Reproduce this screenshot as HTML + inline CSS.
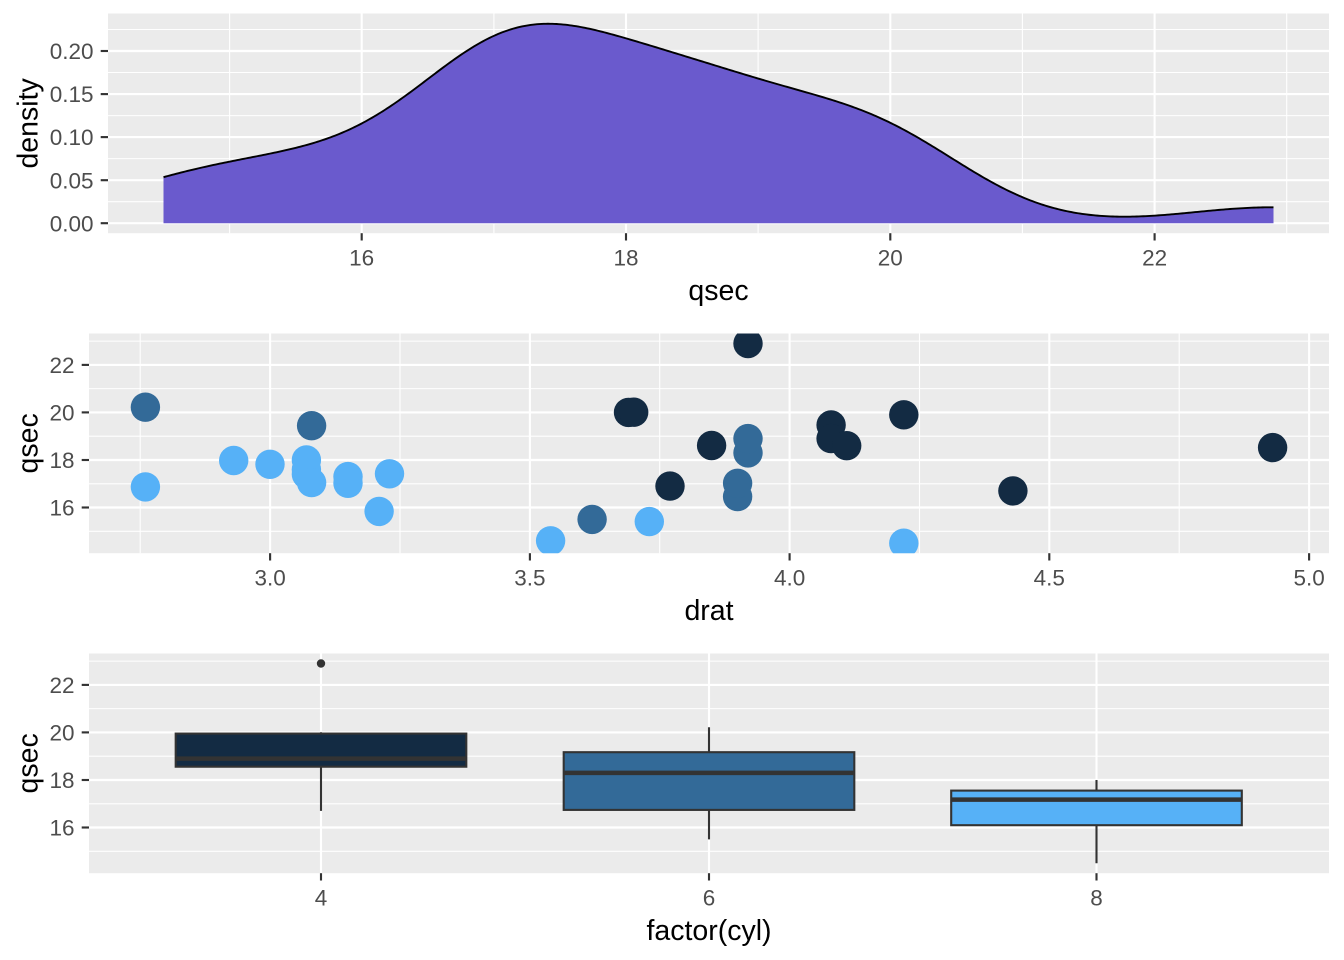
<!DOCTYPE html>
<html><head><meta charset="utf-8"><style>
html,body{margin:0;padding:0;background:#fff;}
svg{display:block;font-family:"Liberation Sans",Arial,sans-serif;}
.tl{font-size:22.5px;fill:#4D4D4D;}
.tt{font-size:28.5px;fill:#000;}
.mn{stroke:#fff;stroke-width:1.07;}
.mj{stroke:#fff;stroke-width:2.13;}
.tk{stroke:#333;stroke-width:2.13;}
</style></head><body>
<svg width="1344" height="960" viewBox="0 0 1344 960" xmlns="http://www.w3.org/2000/svg">
<defs>
<clipPath id="c1"><rect x="108" y="13.5" width="1221" height="219.7"/></clipPath>
<clipPath id="c2"><rect x="89" y="333.5" width="1240" height="219.7"/></clipPath>
<clipPath id="c3"><rect x="89" y="653.5" width="1240" height="219.7"/></clipPath>
</defs>
<rect width="1344" height="960" fill="#fff"/>

<!-- Panel 1 -->
<rect x="108" y="13.5" width="1221" height="219.7" fill="#EBEBEB"/>
<g class="mn">
<line x1="108" x2="1329" y1="201.7" y2="201.7"/><line x1="108" x2="1329" y1="158.6" y2="158.6"/><line x1="108" x2="1329" y1="115.6" y2="115.6"/><line x1="108" x2="1329" y1="72.5" y2="72.5"/><line x1="108" x2="1329" y1="29.5" y2="29.5"/>
<line y1="13.5" y2="233.2" x1="229.6" x2="229.6"/><line y1="13.5" y2="233.2" x1="493.9" x2="493.9"/><line y1="13.5" y2="233.2" x1="758.1" x2="758.1"/><line y1="13.5" y2="233.2" x1="1022.4" x2="1022.4"/><line y1="13.5" y2="233.2" x1="1286.7" x2="1286.7"/>
</g>
<g class="mj">
<line x1="108" x2="1329" y1="223.2" y2="223.2"/><line x1="108" x2="1329" y1="180.2" y2="180.2"/><line x1="108" x2="1329" y1="137.1" y2="137.1"/><line x1="108" x2="1329" y1="94.1" y2="94.1"/><line x1="108" x2="1329" y1="51" y2="51"/>
<line y1="13.5" y2="233.2" x1="361.7" x2="361.7"/><line y1="13.5" y2="233.2" x1="626" x2="626"/><line y1="13.5" y2="233.2" x1="890.3" x2="890.3"/><line y1="13.5" y2="233.2" x1="1154.6" x2="1154.6"/>
</g>
<g clip-path="url(#c1)">
<polygon id="df" fill="#6A5ACD" points="163.5,223.2 163.5,177.7 229,161 300,148 330,137 361,124 400,105 440,72 450,64 480,42 500,32 520,27 550,24 580,27 625,38 680,57 740,73 790,90 840,102 890,122 900,128 920,140 950,157 1000,187 1050,207 1100,216 1140,217 1180,213 1230,210 1273.5,208 1273.5,223.2"/>
<polyline id="dl" fill="none" stroke="#000" stroke-width="1.9" stroke-linejoin="round" points="163.5,177.7 229,161 300,148 330,137 361,124 400,105 440,72 450,64 480,42 500,32 520,27 550,24 580,27 625,38 680,57 740,73 790,90 840,102 890,122 900,128 920,140 950,157 1000,187 1050,207 1100,216 1140,217 1180,213 1230,210 1273.5,208"/>
</g>
<g class="tk">
<line x1="100.7" x2="108" y1="223.2" y2="223.2"/><line x1="100.7" x2="108" y1="180.2" y2="180.2"/><line x1="100.7" x2="108" y1="137.1" y2="137.1"/><line x1="100.7" x2="108" y1="94.1" y2="94.1"/><line x1="100.7" x2="108" y1="51" y2="51"/>
<line y1="233.2" y2="240.5" x1="361.7" x2="361.7"/><line y1="233.2" y2="240.5" x1="626" x2="626"/><line y1="233.2" y2="240.5" x1="890.3" x2="890.3"/><line y1="233.2" y2="240.5" x1="1154.6" x2="1154.6"/>
</g>
<g class="tl" text-anchor="end">
<text x="93.5" y="231.3">0.00</text><text x="93.5" y="188.3">0.05</text><text x="93.5" y="145.2">0.10</text><text x="93.5" y="102.2">0.15</text><text x="93.5" y="59.1">0.20</text>
</g>
<g class="tl" text-anchor="middle">
<text x="361.7" y="265.7">16</text><text x="626" y="265.7">18</text><text x="890.3" y="265.7">20</text><text x="1154.6" y="265.7">22</text>
</g>
<text class="tt" x="718.5" y="300" text-anchor="middle">qsec</text>
<text class="tt" transform="translate(37.5,123.4) rotate(-90)" text-anchor="middle">density</text>

<!-- Panel 2 -->
<rect x="89" y="333.5" width="1240" height="219.7" fill="#EBEBEB"/>
<g class="mn">
<line x1="89" x2="1329" y1="531.3" y2="531.3"/><line x1="89" x2="1329" y1="483.8" y2="483.8"/><line x1="89" x2="1329" y1="436.2" y2="436.2"/><line x1="89" x2="1329" y1="388.6" y2="388.6"/><line x1="89" x2="1329" y1="341.1" y2="341.1"/>
<line y1="333.5" y2="553.2" x1="140.2" x2="140.2"/><line y1="333.5" y2="553.2" x1="400" x2="400"/><line y1="333.5" y2="553.2" x1="659.7" x2="659.7"/><line y1="333.5" y2="553.2" x1="919.5" x2="919.5"/><line y1="333.5" y2="553.2" x1="1179.2" x2="1179.2"/>
</g>
<g class="mj">
<line x1="89" x2="1329" y1="507.5" y2="507.5"/><line x1="89" x2="1329" y1="460" y2="460"/><line x1="89" x2="1329" y1="412.4" y2="412.4"/><line x1="89" x2="1329" y1="364.9" y2="364.9"/>
<line y1="333.5" y2="553.2" x1="270.1" x2="270.1"/><line y1="333.5" y2="553.2" x1="529.9" x2="529.9"/><line y1="333.5" y2="553.2" x1="789.6" x2="789.6"/><line y1="333.5" y2="553.2" x1="1049.3" x2="1049.3"/><line y1="333.5" y2="553.2" x1="1309.1" x2="1309.1"/>
</g>
<g clip-path="url(#c2)">
<circle cx="737.6" cy="496.6" r="14.7" fill="#336A98"/>
<circle cx="737.6" cy="483.3" r="14.7" fill="#336A98"/>
<circle cx="711.6" cy="445.5" r="14.7" fill="#132B43"/>
<circle cx="311.6" cy="425.7" r="14.7" fill="#336A98"/>
<circle cx="348" cy="483.3" r="14.7" fill="#56B1F7"/>
<circle cx="145.4" cy="407.2" r="14.7" fill="#336A98"/>
<circle cx="379.1" cy="511.4" r="14.7" fill="#56B1F7"/>
<circle cx="628.5" cy="412.4" r="14.7" fill="#132B43"/>
<circle cx="748" cy="343.5" r="14.7" fill="#132B43"/>
<circle cx="748" cy="452.9" r="14.7" fill="#336A98"/>
<circle cx="748" cy="438.6" r="14.7" fill="#336A98"/>
<circle cx="306.4" cy="474.3" r="14.7" fill="#56B1F7"/>
<circle cx="306.4" cy="469.5" r="14.7" fill="#56B1F7"/>
<circle cx="306.4" cy="460" r="14.7" fill="#56B1F7"/>
<circle cx="233.7" cy="460.5" r="14.7" fill="#56B1F7"/>
<circle cx="270" cy="464.3" r="14.7" fill="#56B1F7"/>
<circle cx="389.5" cy="473.8" r="14.7" fill="#56B1F7"/>
<circle cx="831.1" cy="425" r="14.7" fill="#132B43"/>
<circle cx="1272.6" cy="447.6" r="14.7" fill="#132B43"/>
<circle cx="903.8" cy="414.8" r="14.7" fill="#132B43"/>
<circle cx="633.7" cy="412.2" r="14.7" fill="#132B43"/>
<circle cx="145.4" cy="486.9" r="14.7" fill="#56B1F7"/>
<circle cx="348" cy="476.6" r="14.7" fill="#56B1F7"/>
<circle cx="649.3" cy="521.6" r="14.7" fill="#56B1F7"/>
<circle cx="311.6" cy="482.6" r="14.7" fill="#56B1F7"/>
<circle cx="831.1" cy="438.6" r="14.7" fill="#132B43"/>
<circle cx="1012.9" cy="490.9" r="14.7" fill="#132B43"/>
<circle cx="670" cy="486.1" r="14.7" fill="#132B43"/>
<circle cx="903.8" cy="543.2" r="14.7" fill="#56B1F7"/>
<circle cx="592.1" cy="519.4" r="14.7" fill="#336A98"/>
<circle cx="550.6" cy="540.8" r="14.7" fill="#56B1F7"/>
<circle cx="846.7" cy="445.7" r="14.7" fill="#132B43"/>
</g>
<g class="tk">
<line x1="81.7" x2="89" y1="507.5" y2="507.5"/><line x1="81.7" x2="89" y1="460" y2="460"/><line x1="81.7" x2="89" y1="412.4" y2="412.4"/><line x1="81.7" x2="89" y1="364.9" y2="364.9"/>
<line y1="553.2" y2="560.5" x1="270.1" x2="270.1"/><line y1="553.2" y2="560.5" x1="529.9" x2="529.9"/><line y1="553.2" y2="560.5" x1="789.6" x2="789.6"/><line y1="553.2" y2="560.5" x1="1049.3" x2="1049.3"/><line y1="553.2" y2="560.5" x1="1309.1" x2="1309.1"/>
</g>
<g class="tl" text-anchor="end">
<text x="74.5" y="515.6">16</text><text x="74.5" y="468.1">18</text><text x="74.5" y="420.5">20</text><text x="74.5" y="373">22</text>
</g>
<g class="tl" text-anchor="middle">
<text x="270.1" y="585.7">3.0</text><text x="529.9" y="585.7">3.5</text><text x="789.6" y="585.7">4.0</text><text x="1049.3" y="585.7">4.5</text><text x="1309.1" y="585.7">5.0</text>
</g>
<text class="tt" x="709" y="620" text-anchor="middle">drat</text>
<text class="tt" transform="translate(37.5,443.4) rotate(-90)" text-anchor="middle">qsec</text>

<!-- Panel 3 -->
<rect x="89" y="653.5" width="1240" height="219.7" fill="#EBEBEB"/>
<g class="mn">
<line x1="89" x2="1329" y1="851.3" y2="851.3"/><line x1="89" x2="1329" y1="803.8" y2="803.8"/><line x1="89" x2="1329" y1="756.2" y2="756.2"/><line x1="89" x2="1329" y1="708.6" y2="708.6"/><line x1="89" x2="1329" y1="661.1" y2="661.1"/>
</g>
<g class="mj">
<line x1="89" x2="1329" y1="827.5" y2="827.5"/><line x1="89" x2="1329" y1="780" y2="780"/><line x1="89" x2="1329" y1="732.4" y2="732.4"/><line x1="89" x2="1329" y1="684.9" y2="684.9"/>
<line y1="653.5" y2="873.2" x1="321" x2="321"/><line y1="653.5" y2="873.2" x1="709" x2="709"/><line y1="653.5" y2="873.2" x1="1096.5" x2="1096.5"/>
</g>
<g clip-path="url(#c3)" stroke="#333" stroke-width="2.1">
<line x1="321" x2="321" y1="733.6" y2="732.2"/><line x1="321" x2="321" y1="766.7" y2="810.9"/>
<rect x="175.7" y="733.6" width="290.6" height="33.1" fill="#132B43"/>
<line x1="175.7" x2="466.3" y1="758.6" y2="758.6" stroke-width="4.5"/>
<circle cx="321" cy="663.5" r="4.2" fill="#333" stroke="none"/>

<line x1="709" x2="709" y1="752.2" y2="727.2"/><line x1="709" x2="709" y1="809.9" y2="839.4"/>
<rect x="563.7" y="752.2" width="290.6" height="57.7" fill="#336A98"/>
<line x1="563.7" x2="854.3" y1="772.9" y2="772.9" stroke-width="4.5"/>

<line x1="1096.5" x2="1096.5" y1="790.6" y2="780"/><line x1="1096.5" x2="1096.5" y1="825.2" y2="863.2"/>
<rect x="951.2" y="790.6" width="290.6" height="34.6" fill="#56B1F7"/>
<line x1="951.2" x2="1241.8" y1="799.6" y2="799.6" stroke-width="4.5"/>
</g>
<g class="tk">
<line x1="81.7" x2="89" y1="827.5" y2="827.5"/><line x1="81.7" x2="89" y1="780" y2="780"/><line x1="81.7" x2="89" y1="732.4" y2="732.4"/><line x1="81.7" x2="89" y1="684.9" y2="684.9"/>
<line y1="873.2" y2="880.5" x1="321" x2="321"/><line y1="873.2" y2="880.5" x1="709" x2="709"/><line y1="873.2" y2="880.5" x1="1096.5" x2="1096.5"/>
</g>
<g class="tl" text-anchor="end">
<text x="74.5" y="835.6">16</text><text x="74.5" y="788.1">18</text><text x="74.5" y="740.5">20</text><text x="74.5" y="693">22</text>
</g>
<g class="tl" text-anchor="middle">
<text x="321" y="905.7">4</text><text x="709" y="905.7">6</text><text x="1096.5" y="905.7">8</text>
</g>
<text class="tt" x="709" y="940" text-anchor="middle">factor(cyl)</text>
<text class="tt" transform="translate(37.5,763.4) rotate(-90)" text-anchor="middle">qsec</text>
</svg>
<script>
(function(){
var q=[16.46,17.02,18.61,19.44,17.02,20.22,15.84,20.00,22.90,18.30,18.90,17.40,17.60,18.00,17.98,17.82,17.42,19.47,18.52,19.90,20.01,16.87,17.30,15.41,17.05,18.90,16.70,16.90,14.50,15.50,14.60,18.60];
var n=q.length,h=0.67416,pts=[];
for(var i=0;i<512;i++){
var x=14.5+i*(8.4/511),s=0;
for(var j=0;j<n;j++){var z=(x-q[j])/h;s+=Math.exp(-0.5*z*z);}
var d=s/(n*h*Math.sqrt(2*Math.PI));
var px=108+(x-14.08)*1221/9.24,py=223.2-d*861;
pts.push(px.toFixed(2)+','+py.toFixed(2));
}
try{
document.getElementById('dl').setAttribute('points',pts.join(' '));
document.getElementById('df').setAttribute('points','163.5,223.2 '+pts.join(' ')+' 1273.5,223.2');
}catch(e){}
})();
</script>
</body></html>
